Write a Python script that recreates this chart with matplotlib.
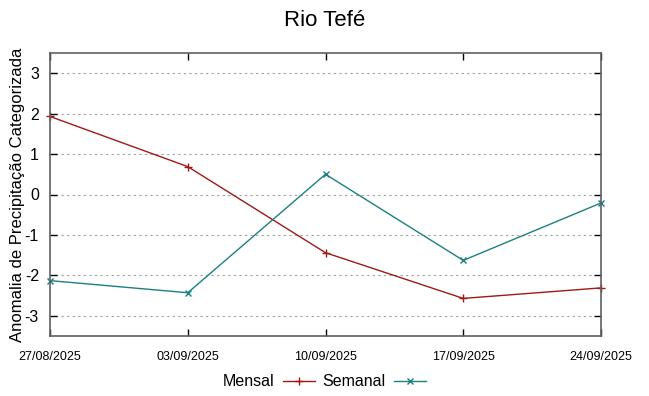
import matplotlib
matplotlib.use('Agg')
import matplotlib.pyplot as plt

plt.rcParams['font.family'] = ['Liberation Sans', 'DejaVu Sans']

dates = ['27/08/2025', '03/09/2025', '10/09/2025', '17/09/2025', '24/09/2025']
mensal = [1.93, 0.69, -1.44, -2.57, -2.31]
semanal = [-2.13, -2.43, 0.50, -1.63, -0.21]
yticks = [-3, -2, -1, 0, 1, 2, 3]

fig = plt.figure(figsize=(6.49, 3.96), dpi=100)
ax = fig.add_axes([50 / 649, 60 / 396, 551 / 649, 283 / 396])

x = list(range(len(dates)))
ax.plot(x, mensal, color='#a01818', lw=1, marker='+', ms=6, mew=1, label='Mensal', clip_on=False)
ax.plot(x, semanal, color='#1b8080', lw=1, marker='x', ms=5, mew=1, label='Semanal', clip_on=False)

ax.set_xlim(0, len(dates) - 1)
ax.set_ylim(-3.5, 3.5)
ax.set_xticks(x)
ax.set_xticklabels(dates, fontsize=9)
ax.set_yticks(yticks)
ax.set_yticklabels([str(v) for v in yticks], fontsize=11.5)
ax.tick_params(direction='in', length=5, width=1, top=True, right=True, color='black')
ax.tick_params(axis='x', pad=11)
ax.tick_params(axis='y', pad=8)
ax.yaxis.grid(True, linestyle=(0, (2, 3)), color='#a0a0a0', lw=0.8)
for s in ax.spines.values():
    s.set_color('#606060')
    s.set_linewidth(1.2)

ax.set_ylabel('Anomalia de Precipitação Categorizada', fontsize=12)
ax.yaxis.set_label_coords(-25 / 551, 0.5)
fig.suptitle('Rio Tefé', fontsize=16, y=0.975)

fig.legend(loc='center', bbox_to_anchor=(0.5, 1 - 382 / 396), ncol=2, frameon=False,
           markerfirst=False, fontsize=11.5, handlelength=2.0, columnspacing=0.5, handletextpad=0.5)

fig.savefig('out.png', dpi=100)
